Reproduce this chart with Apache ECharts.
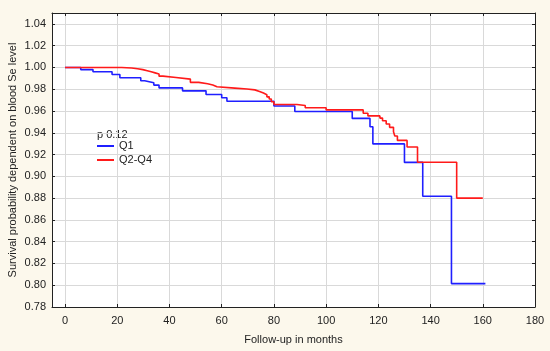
<!DOCTYPE html>
<html>
<head>
<meta charset="utf-8">
<script src="https://cdn.jsdelivr.net/npm/echarts@6/dist/echarts.min.js"></script>
<style>
html,body{margin:0;padding:0;background:#fcf8ec;}
#chart{width:550px;height:351px;}
</style>
</head>
<body>
<div id="chart"></div>
<script>
var xTicks = [0, 20, 40, 60, 80, 100, 120, 140, 160, 180];
var yTicks = [0.78, 0.80, 0.82, 0.84, 0.86, 0.88, 0.90, 0.92, 0.94, 0.96, 0.98, 1.00, 1.02, 1.04];
var seriesNames = ['Q1', 'Q2-Q4'];
var pText = 'p 0.12';
var q1Times = [0, 6, 10.7, 18, 21, 29, 30.5, 34, 36, 45, 54, 60, 62, 80, 88, 110, 116.8, 117.9, 130, 137, 148, 161];
var q1Surv  = [1.000, 0.998, 0.996, 0.9935, 0.9905, 0.9878, 0.986, 0.9838, 0.9812, 0.9785, 0.9752, 0.9722, 0.969, 0.9646, 0.9596, 0.9532, 0.9455, 0.9298, 0.9128, 0.8817, 0.8015, 0.8015];
var q24Times = [0, 21.7, 25.5, 27.8, 29.8, 31.5, 33, 34.5, 36, 37.5, 42.5, 48, 51.2, 54.6, 56.6, 58.2, 65, 69.7, 72.7, 74.5, 76, 77.3, 78.2, 79, 80, 88.8, 92, 100, 114.2, 116, 120.6, 121.6, 123, 124.3, 125.8, 126.3, 127.3, 131, 135, 150, 160];
var q24Surv  = [1.000, 0.9995, 0.9988, 0.998, 0.997, 0.996, 0.995, 0.994, 0.992, 0.9908, 0.9893, 0.9863, 0.985, 0.9838, 0.9822, 0.981, 0.9802, 0.9794, 0.978, 0.9765, 0.975, 0.973, 0.971, 0.9685, 0.966, 0.965, 0.963, 0.961, 0.958, 0.9555, 0.9535, 0.951, 0.948, 0.945, 0.941, 0.937, 0.933, 0.927, 0.913, 0.88, 0.88];

function pairs(t, s) { return t.map(function (v, i) { return [v, s[i]]; }); }

var chart = echarts.init(document.getElementById('chart'));
var axisCol = '#222';
var gridCol = '#d9d9d9';
var font = 'Liberation Sans, Arial, sans-serif';
var fs = 11;
var xMin = -5, xMax = 180, yMin = 0.78, yMax = 1.05;

chart.setOption({
  backgroundColor: '#fcf8ec',
  animation: false,
  textStyle: { fontFamily: font },
  grid: { left: 52, right: 15, top: 13, bottom: 44, show: true, backgroundColor: '#ffffff', borderWidth: 0,
    containLabel: false, outerBoundsMode: 'none' },
  xAxis: [{
    type: 'value', min: xMin, max: xMax, position: 'bottom',
    name: 'Follow-up in months', nameLocation: 'middle', nameGap: 27, nameMoveOverlap: false,
    nameTextStyle: { color: axisCol, fontSize: fs, fontFamily: font },
    axisLine: { show: true, onZero: false, lineStyle: { color: axisCol, width: 1 } },
    axisTick: { show: true, inside: true, length: 3, customValues: xTicks, lineStyle: { color: axisCol } },
    axisLabel: { customValues: xTicks, color: axisCol, fontSize: fs, margin: 8, fontFamily: font },
    splitLine: { show: true, lineStyle: { color: gridCol, width: 1 } }
  }, {
    type: 'value', min: xMin, max: xMax, position: 'top',
    axisLine: { show: true, onZero: false, lineStyle: { color: axisCol, width: 1 } },
    axisTick: { show: true, inside: true, length: 3, customValues: xTicks, lineStyle: { color: axisCol } },
    axisLabel: { show: false },
    splitLine: { show: false }
  }],
  yAxis: [{
    type: 'value', min: yMin, max: yMax, interval: 0.02, position: 'left',
    name: 'Survival probability dependent on blood Se level', nameLocation: 'middle', nameGap: 34, nameMoveOverlap: false,
    nameTextStyle: { color: axisCol, fontSize: fs, fontFamily: font },
    axisLine: { show: true, onZero: false, lineStyle: { color: axisCol, width: 1 } },
    axisTick: { show: true, inside: true, length: 3, customValues: yTicks, lineStyle: { color: axisCol } },
    axisLabel: { customValues: yTicks, color: axisCol, fontSize: fs, margin: 6, fontFamily: font,
      formatter: function (v) { return v.toFixed(2); } },
    splitLine: { show: true, lineStyle: { color: gridCol, width: 1 } }
  }, {
    type: 'value', min: yMin, max: yMax, interval: 0.02, position: 'right',
    axisLine: { show: true, onZero: false, lineStyle: { color: axisCol, width: 1 } },
    axisTick: { show: true, inside: true, length: 3, customValues: yTicks, lineStyle: { color: axisCol } },
    axisLabel: { show: false },
    splitLine: { show: false }
  }],
  legend: {
    data: seriesNames.map(function (n) { return { name: n, icon: 'rect' }; }),
    orient: 'vertical', left: 97, top: 139,
    itemWidth: 17, itemHeight: 2, itemGap: 0, padding: 0,
    textStyle: { color: axisCol, fontSize: fs, fontFamily: font, lineHeight: 14 }
  },
  graphic: [{
    type: 'text', left: 97, top: 129,
    style: { text: pText, fill: axisCol, font: fs + 'px ' + font }
  }],
  series: [{
    name: seriesNames[0], type: 'line', step: 'end', showSymbol: false, symbol: 'none',
    data: pairs(q1Times, q1Surv), color: '#1f1fff',
    lineStyle: { color: '#1f1fff', width: 1.6 }, z: 3
  }, {
    name: seriesNames[1], type: 'line', step: 'end', showSymbol: false, symbol: 'none',
    data: pairs(q24Times, q24Surv), color: '#ff1a1a',
    lineStyle: { color: '#ff1a1a', width: 1.6 }, z: 4
  }]
});
</script>
</body>
</html>
